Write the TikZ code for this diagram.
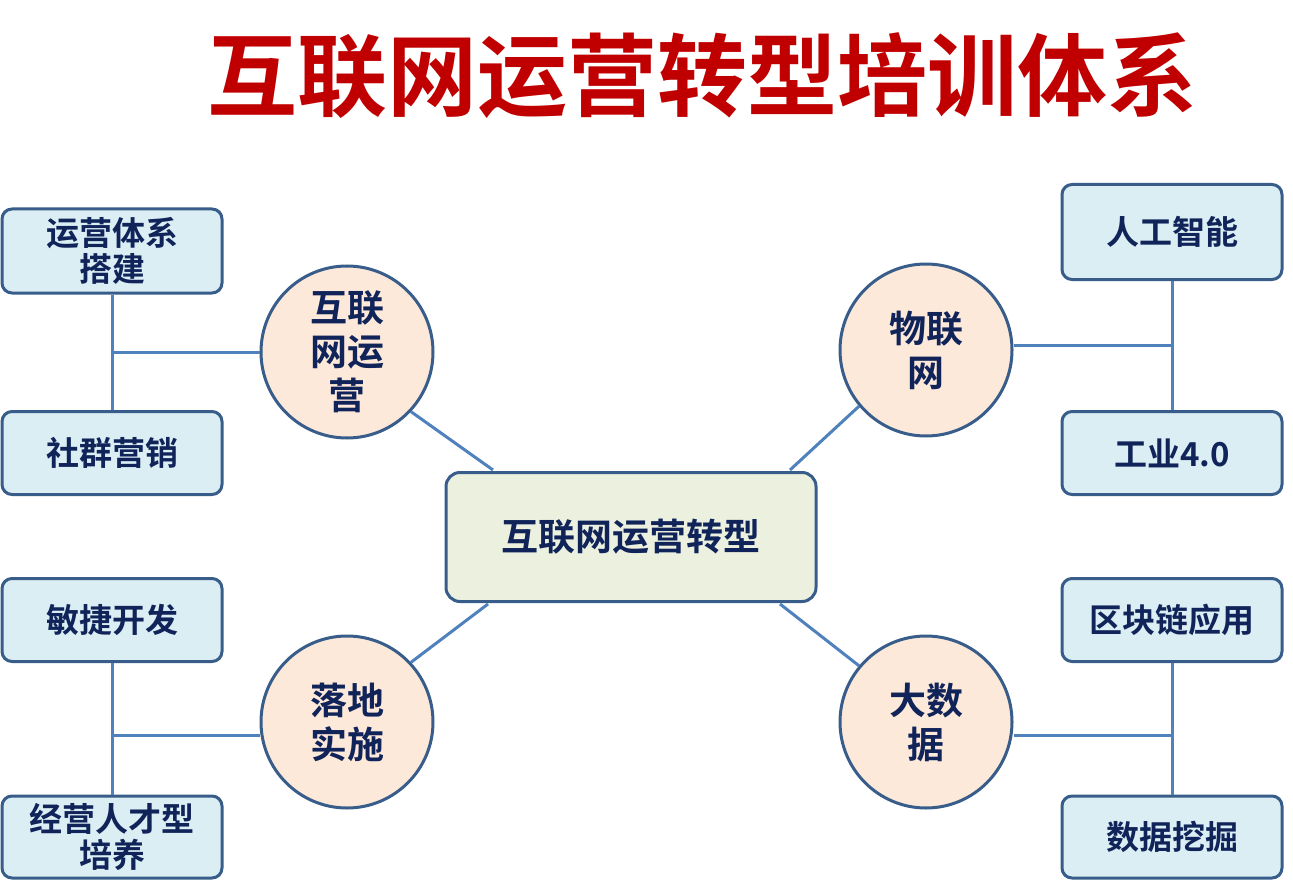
\documentclass[tikz,border=0pt]{standalone}
\usepackage{fontspec}
\setmainfont{Noto Sans CJK SC}[BoldFont={* Bold}]
\definecolor{navy}{HTML}{10245A}
\definecolor{edge}{HTML}{385D8A}
\definecolor{link}{HTML}{4F81BD}
\definecolor{leaffill}{HTML}{DBEEF4}
\definecolor{hubfill}{HTML}{FDE9D9}
\definecolor{cfill}{HTML}{EBF1DE}
\tikzset{
 leaf/.style={draw=edge,line width=3pt,fill=leaffill,rounded corners=10pt,minimum width=220pt,align=center,font=\bfseries\fontsize{33}{36}\selectfont,text=navy,inner sep=1pt},
 hub/.style={circle,draw=edge,line width=3pt,fill=hubfill,minimum size=172pt,align=center,font=\bfseries\fontsize{37}{44}\selectfont,text=navy,inner sep=0pt},
 lnk/.style={draw=link,line width=3pt}
}
\begin{document}
\begin{tikzpicture}[x=1pt,y=-1pt]
\useasboundingbox (0,0) rectangle (1293,896);
\node (title) at (702,76) {\bfseries\fontsize{90}{96}\selectfont\color[HTML]{C00000}互联网运营转型培训体系};
\node[draw=edge,line width=3pt,fill=cfill,rounded corners=14pt,minimum width=370pt,minimum height=129pt,font=\bfseries\fontsize{37}{42}\selectfont,text=navy] (c) at (631,537) {互联网运营转型};
\node[hub] (h1) at (347,352) {互联\\网运\\营};
\node[hub] (h2) at (926,350) {物联\\网};
\node[hub] (h3) at (347,722) {落地\\实施};
\node[hub] (h4) at (926,722) {大数\\据};
\node[leaf,minimum height=84pt] (l1) at (112,251) {运营体系\\搭建};
\node[leaf,minimum height=83pt] (l2) at (112,453) {社群营销};
\node[leaf,minimum height=83pt] (l3) at (112,620) {敏捷开发};
\node[leaf,minimum height=82pt] (l4) at (112,837) {经营人才型\\培养};
\node[leaf,minimum height=95pt] (r1) at (1172,232) {人工智能};
\node[leaf,minimum height=83pt] (r2) at (1172,453) {工业4.0};
\node[leaf,minimum height=83pt] (r3) at (1172,620) {区块链应用};
\node[leaf,minimum height=82pt] (r4) at (1172,837) {数据挖掘};
\draw[lnk] (l1.south) -- (l2.north);
\draw[lnk] (l3.south) -- (l4.north);
\draw[lnk] (r1.south) -- (r2.north);
\draw[lnk] (r3.south) -- (r4.north);
\coordinate (a1) at (112,352); \coordinate (a2) at (1172,345);
\coordinate (a3) at (112,735); \coordinate (a4) at (1172,735);
\draw[lnk] (a1) -- (h1.west|-a1);
\draw[lnk] (a2) -- (h2.east|-a2);
\draw[lnk] (a3) -- (h3.west|-a3);
\draw[lnk] (a4) -- (h4.east|-a4);
\coordinate (b1) at (493,470); \coordinate (b2) at (790,470);
\coordinate (b3) at (488,604); \coordinate (b4) at (780,604);
\draw[lnk] (h1.-43) -- (b1);
\draw[lnk] (h2.-140) -- (b2);
\draw[lnk] (h3.43) -- (b3);
\draw[lnk] (h4.140) -- (b4);
\end{tikzpicture}
\end{document}
